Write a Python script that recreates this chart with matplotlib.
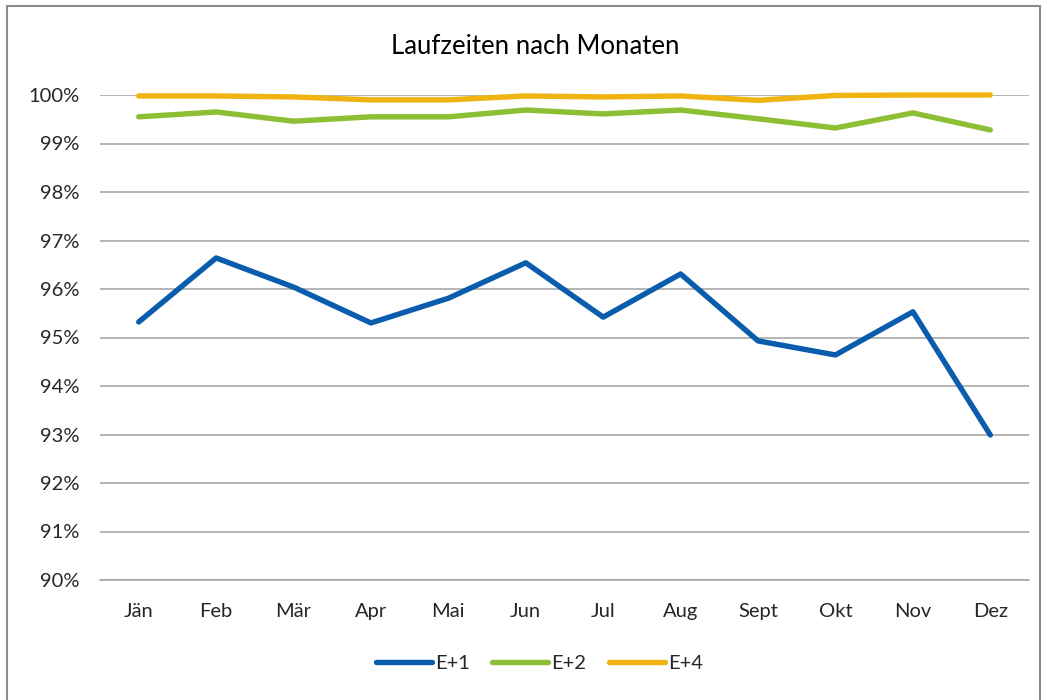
import matplotlib
matplotlib.use("Agg")
import matplotlib.pyplot as plt
from matplotlib.patches import Rectangle
from matplotlib.ticker import FuncFormatter

# data
months = ["Jän", "Feb", "Mär", "Apr", "Mai", "Jun", "Jul", "Aug", "Sept", "Okt", "Nov", "Dez"]
e1 = [95.32, 96.64, 96.04, 95.30, 95.81, 96.54, 95.42, 96.31, 94.93, 94.64, 95.53, 92.99]
e2 = [99.55, 99.65, 99.46, 99.55, 99.55, 99.69, 99.61, 99.69, 99.51, 99.32, 99.63, 99.28]
e4 = [99.98, 99.98, 99.96, 99.90, 99.90, 99.98, 99.96, 99.98, 99.89, 99.99, 100.0, 100.0]

plt.rcParams['font.family'] = ['Lato', 'DejaVu Sans']

fig = plt.figure(figsize=(10.47, 7), dpi=100)
ax = fig.add_axes([100/1047, 1-580/700, 929/1047, 485/700])

x = range(len(months))
ax.plot(x, e1, color="#0A5CAD", lw=3.9, solid_capstyle="round", solid_joinstyle="round", label="E+1", clip_on=False, zorder=3)
ax.plot(x, e2, color="#8CBF34", lw=3.9, solid_capstyle="round", solid_joinstyle="round", label="E+2", clip_on=False, zorder=3)
ax.plot(x, e4, color="#F0B412", lw=3.9, solid_capstyle="round", solid_joinstyle="round", label="E+4", clip_on=False, zorder=3)

ax.set_xlim(-0.5, len(months) - 0.5)
ax.set_ylim(90, 100)
ax.set_yticks(range(90, 101))
ax.yaxis.set_major_formatter(FuncFormatter(lambda v, p: f"{v:.0f}%"))
ax.set_xticks(list(x))
ax.set_xticklabels(months)
ax.grid(axis="y", color="#A0A0A0", lw=1.1)
ax.set_axisbelow(True)
for s in ["top", "right", "left"]:
    ax.spines[s].set_visible(False)
ax.spines["bottom"].set_color("#A0A0A0")
ax.spines["bottom"].set_linewidth(1.1)
ax.tick_params(axis="both", length=0, labelsize=14.5, colors="#262626")
ax.tick_params(axis="y", pad=15)
ax.tick_params(axis="x", pad=16.5)

fig.text(0.511, 1-46/700, "Laufzeiten nach Monaten", ha="center", va="center", fontsize=18.5, color="#000000")

leg = fig.legend(loc="center", bbox_to_anchor=(0.515, 1-663/700), ncol=3, frameon=False,
                 fontsize=14.5, handlelength=2.8, handletextpad=0.15, columnspacing=1.1)
for t in leg.get_texts():
    t.set_color("#262626")

fig.patches.append(Rectangle((7/1047, -0.01), 1033/1047, 1 - 6/700 + 0.01, transform=fig.transFigure,
                             fill=False, edgecolor="#8C8C8C", lw=1.5))

fig.savefig("out.png", dpi=100)
